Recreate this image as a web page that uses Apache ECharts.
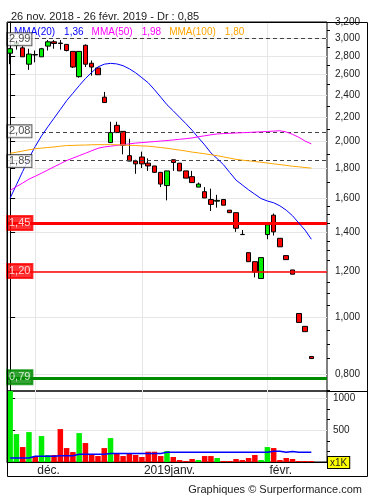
<!DOCTYPE html>
<html><head><meta charset="utf-8">
<script src="https://cdn.jsdelivr.net/npm/echarts@6/dist/echarts.min.js"></script>
<style>html,body{margin:0;padding:0;background:#fff}#c{width:375px;height:495px}</style>
</head><body><div id="c"></div>
<script>
// ---- data ----
const openP  = [2.83,2.92,2.89,2.71,2.815,2.79,2.91,2.96,2.945,2.93,2.85,2.58,2.92,2.72,2.67,2.38,1.99,2.13,2.08,1.89,1.85,1.88,1.835,1.815,1.77,1.68,1.86,1.835,1.78,1.74,1.67,1.64,1.59,1.58,1.59,1.525,1.51,1.386,1.29,1.245,1.165,1.385,1.495,1.365,1.275,1.205,1.015,0.965,0.857];
const closeP = [2.88,2.95,2.79,2.82,2.81,2.88,2.96,2.94,2.94,2.86,2.68,2.85,2.71,2.68,2.60,2.33,2.07,2.07,1.97,1.85,1.83,1.83,1.815,1.77,1.69,1.78,1.84,1.78,1.73,1.70,1.69,1.60,1.56,1.585,1.555,1.51,1.42,1.385,1.245,1.195,1.265,1.44,1.40,1.32,1.255,1.185,0.98,0.945,0.85];
const lowP   = [2.71,2.87,2.79,2.65,2.73,2.79,2.86,2.88,2.87,2.85,2.67,2.57,2.68,2.59,2.60,2.33,1.99,2.07,1.90,1.85,1.76,1.80,1.78,1.765,1.67,1.585,1.78,1.78,1.73,1.70,1.67,1.60,1.52,1.54,1.555,1.51,1.40,1.385,1.245,1.17,1.165,1.36,1.38,1.32,1.255,1.185,0.98,0.945,0.85];
const highP  = [2.89,2.96,2.91,2.88,2.86,2.89,2.98,2.98,2.98,2.93,2.85,2.85,2.93,2.75,2.68,2.43,2.16,2.16,2.08,2.02,1.86,1.92,1.87,1.815,1.77,1.78,1.86,1.835,1.78,1.78,1.70,1.67,1.66,1.62,1.59,1.525,1.51,1.41,1.29,1.245,1.265,1.44,1.505,1.365,1.275,1.205,1.015,0.965,0.857];
const volume = [1120,440,236,472,90,409,110,110,519,220,157,456,299,115,94,220,377,137,94,137,110,79,162,162,94,173,79,31,16,47,31,94,94,63,16,16,47,31,63,110,31,236,220,31,63,47,16,16,16];
const volumeMA = [63,63,63,63,90,90,90,90,100,100,100,121,121,121,121,121,133,133,133,133,133,133,133,133,133,153,153,153,153,153,153,153,153,153,153,153,153,153,153,153,153,153,170,170,153,165,153,153,153];
const mma20  = [1.599,1.685,1.776,1.872,1.960,2.043,2.117,2.191,2.267,2.347,2.417,2.490,2.561,2.624,2.681,2.710,2.719,2.713,2.694,2.661,2.620,2.569,2.519,2.451,2.380,2.310,2.255,2.199,2.145,2.089,2.029,1.972,1.911,1.868,1.824,1.769,1.717,1.684,1.652,1.624,1.596,1.581,1.570,1.551,1.525,1.492,1.450,1.410,1.36];
const mma50  = [1.648,1.673,1.697,1.723,1.743,1.764,1.786,1.809,1.831,1.854,1.872,1.890,1.908,1.927,1.946,1.956,1.962,1.968,1.974,1.980,1.986,1.990,1.994,1.998,2.002,2.006,2.011,2.016,2.021,2.027,2.036,2.044,2.052,2.059,2.062,2.064,2.067,2.069,2.071,2.074,2.076,2.079,2.082,2.085,2.075,2.056,2.032,2.002,1.98];
const mma100 = [1.908,1.916,1.925,1.934,1.943,1.947,1.952,1.956,1.962,1.967,1.968,1.970,1.971,1.973,1.974,1.974,1.974,1.973,1.971,1.969,1.967,1.964,1.962,1.957,1.952,1.946,1.939,1.932,1.925,1.917,1.911,1.904,1.897,1.890,1.881,1.872,1.863,1.857,1.852,1.847,1.842,1.836,1.830,1.825,1.819,1.813,1.809,1.804,1.80];
const priceTicks = [0.8,1.0,1.2,1.4,1.6,1.8,2.0,2.2,2.4,2.6,2.8,3.0,3.2];
const priceMinorTicks = [0.75,0.85,0.9,0.95,1.05,1.1,1.15,1.25,1.3,1.35,1.45,1.5,1.55,1.7,1.9,2.1,2.3,2.5,2.7,2.9,3.1];
const volumeTicks = [500,1000];
const volumeMinorTicks = [166.7,333.3,666.7,833.3];
const monthIdx = [4,21,41];
const monthLabels = ['déc.','2019janv.','févr.'];
const refLevels = [2.99,2.08,1.85,1.45,1.20,0.79];
const refLabels = ['2,99','2,08','1,85','1,45','1,20','0,79'];
const legendNames = ['MMA(20)','MMA(50)','MMA(100)'];
const legendValues = ['1,36','1,98','1,80'];
const titleText = '26 nov. 2018 - 26 févr. 2019 - Dr : 0,85';
const footerText = 'Graphiques © Surperformance.com';
const xMax = 50.5;            // chart leaves two empty session slots at the right
const priceMin = 0.748, priceMax = 3.2, volMax = 1120;

// ---- styles ----
const FONT = '"Liberation Sans", Arial, sans-serif';
const UP = '#00ee00', DOWN = '#ff0000';
const maColors = ['#0000ff','#ff00ff','#ffa500'];
const refStyles = [
  {line:{color:'#444',width:1,type:[4,3]}, label:{backgroundColor:'#fff',borderColor:'#333',color:'#222'}},
  {line:{color:'#444',width:1,type:[4,3]}, label:{backgroundColor:'#fff',borderColor:'#333',color:'#222'}},
  {line:{color:'#444',width:1,type:[4,3]}, label:{backgroundColor:'#fff',borderColor:'#333',color:'#222'}},
  {line:{color:'#ff0000',width:3,type:'solid'}, label:{backgroundColor:'#ff0000',borderColor:'#ff0000',color:'#fff'}},
  {line:{color:'#ff0000',width:1.5,type:'solid'}, label:{backgroundColor:'#ff0000',borderColor:'#ff0000',color:'#fff'}},
  {line:{color:'#008c00',width:3,type:'solid'}, label:{backgroundColor:'#008c00',borderColor:'#008c00',color:'#fff'}}
];
const L = Math.log;
const idx = openP.map((_, i) => i);
const fmtPrice = v => Math.exp(v).toFixed(3).replace('.', ',');

const chart = echarts.init(document.getElementById('c'), null, {renderer:'canvas'});
const gridLine = {show:true, lineStyle:{color:'#e6e6e6', width:1}};
chart.setOption({
  animation:false,
  textStyle:{fontFamily:FONT},
  title:[
    {text:titleText, left:6, top:6, textStyle:{fontSize:11, fontWeight:'normal', color:'#222', fontFamily:FONT}},
    {text:footerText, right:8, top:479, textStyle:{fontSize:11, fontWeight:'normal', color:'#222', fontFamily:FONT}}
  ],
  legend:{
    left:4, top:20, icon:'none', itemWidth:0, itemHeight:14, itemGap:3, selectedMode:false,
    data: legendNames.map((n,i)=>({name:n, textStyle:{color:maColors[i]}})),
    formatter: n => '{n|' + n + '}{v|' + legendValues[legendNames.indexOf(n)] + '}',
    textStyle:{fontSize:10, fontFamily:FONT, rich:{n:{fontSize:10,fontFamily:FONT}, v:{fontSize:10,fontFamily:FONT,padding:[0,0,0,9]}}}
  },
  grid:[
    {left:7, top:22, width:320, height:369, show:true, borderColor:'#000', borderWidth:1, backgroundColor:'transparent'},
    {left:7, top:391, width:320, height:71, show:true, borderColor:'#000', borderWidth:1, backgroundColor:'transparent'}
  ],
  xAxis:[
    {gridIndex:0, type:'value', min:-0.5, max:xMax, axisLine:{show:false}, axisLabel:{show:false},
     axisTick:{show:false, customValues:monthIdx}, splitLine:gridLine},
    {gridIndex:1, type:'value', min:-0.5, max:xMax, axisLine:{show:true, lineStyle:{color:'#000'}},
     axisTick:{show:false, customValues:monthIdx}, splitLine:gridLine,
     axisLabel:{show:true, customValues:monthIdx, align:'left', margin:3, padding:[0,0,0,2], fontSize:12, color:'#222', fontFamily:FONT,
       formatter: v => monthLabels[monthIdx.indexOf(Math.round(v))] || ''}}
  ],
  yAxis:[
    {gridIndex:0, type:'value', position:'right', min:L(priceMin), max:L(priceMax),
     axisLine:{show:true, lineStyle:{color:'#000'}},
     axisTick:{show:true, length:5, customValues:priceTicks.map(L), lineStyle:{color:'#000'}},
     axisLabel:{show:true, customValues:priceTicks.map(L), formatter:fmtPrice, margin:8, fontSize:10, color:'#222', fontFamily:FONT},
     splitLine:gridLine},
    {gridIndex:0, type:'value', position:'right', min:L(priceMin), max:L(priceMax),
     axisLine:{show:false}, axisLabel:{show:false}, splitLine:{show:false},
     axisTick:{show:true, length:3, customValues:priceMinorTicks.map(L), lineStyle:{color:'#000'}}},
    {gridIndex:1, type:'value', position:'right', min:0, max:volMax,
     axisLine:{show:true, lineStyle:{color:'#000'}},
     axisTick:{show:true, length:5, customValues:volumeTicks, lineStyle:{color:'#000'}},
     axisLabel:{show:true, customValues:volumeTicks, margin:6, fontSize:10, color:'#222', fontFamily:FONT, formatter: v => String(Math.round(v))},
     splitLine:gridLine},
    {gridIndex:1, type:'value', position:'right', min:0, max:volMax,
     axisLine:{show:false}, axisLabel:{show:false}, splitLine:{show:false},
     axisTick:{show:true, length:3, customValues:volumeMinorTicks, lineStyle:{color:'#000'}}}
  ],
  series:[
    {type:'line', name:'refLines', xAxisIndex:0, yAxisIndex:0, data:[], silent:true, z:3,
     markLine:{silent:true, symbol:['none','none'], label:{show:false},
       data: refLevels.map((v,i)=>({yAxis:L(v), lineStyle:refStyles[i].line}))}},
    {type:'candlestick', name:'cours', xAxisIndex:0, yAxisIndex:0, barWidth:5,
     encode:{x:0, y:[1,2,3,4]},
     data: idx.map(i=>[i, L(openP[i]), L(closeP[i]), L(lowP[i]), L(highP[i])]),
     itemStyle:{color:UP, color0:DOWN, borderColor:'#000', borderColor0:'#000', borderWidth:1}, z:4},
    ...legendNames.map((n,k)=>({type:'line', name:n, xAxisIndex:0, yAxisIndex:0, showSymbol:false, symbol:'none',
      data: idx.map(i=>[i, L([mma20,mma50,mma100][k][i])]), lineStyle:{color:maColors[k], width:1}, itemStyle:{color:maColors[k]}, z:5})),
    {type:'scatter', name:'refLabels', xAxisIndex:0, yAxisIndex:0, symbolSize:0, z:10, silent:true,
     data: refLevels.map((v,i)=>({value:[-0.5, L(v), refLabels[i]],
       label:{show:true, position:'right', distance:0, formatter:refLabels[i], fontSize:11, fontFamily:FONT,
         borderWidth:1, padding: i<3 ? [1,1,0,2] : [2,2,1,2], ...refStyles[i].label}}))},
    {type:'bar', name:'volume', xAxisIndex:1, yAxisIndex:2, barWidth:5.5,
     data: idx.map(i=>({value:[i, volume[i]], itemStyle:{color: closeP[i] >= openP[i] ? UP : DOWN}})), z:2},
    {type:'line', name:'volMA', xAxisIndex:1, yAxisIndex:2, showSymbol:false, symbol:'none',
     data: idx.map(i=>[i, volumeMA[i]]), lineStyle:{color:'#0000ff', width:1.5}, z:3}
  ],
  graphic:[
    {type:'rect', shape:{x:7.5, y:22.5, width:360, height:454}, style:{fill:'none', stroke:'#000', lineWidth:1}, silent:true, z:100},
    {type:'line', shape:{x1:327, y1:391.5, x2:368, y2:391.5}, style:{stroke:'#000', lineWidth:1}, silent:true, z:100},
    {type:'text', x:328, y:457, style:{text:'x1K', fontSize:10, fontFamily:FONT, fill:'#222', backgroundColor:'#ffff00', borderColor:'#000', borderWidth:1, padding:[1,2,0,2]}, silent:true, z:100}
  ]
});
</script></body></html>
